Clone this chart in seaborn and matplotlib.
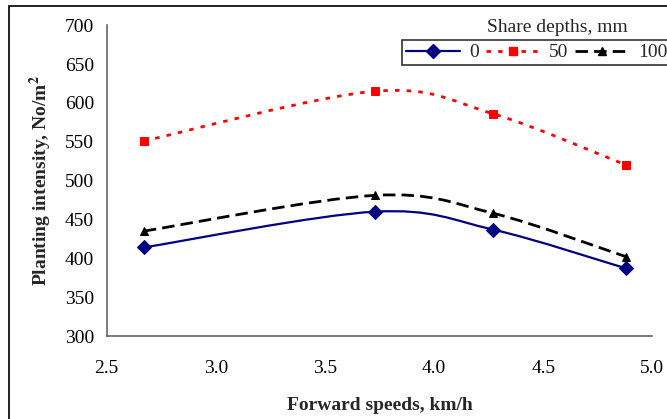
import numpy as np
import pandas as pd
import matplotlib.pyplot as plt
import seaborn as sns
from matplotlib.path import Path
from matplotlib.patches import PathPatch, Rectangle
from matplotlib.lines import Line2D

# data
speeds = [2.67, 3.73, 4.27, 4.88]
depth_0 = [414, 460, 437, 387]
depth_50 = [551, 615, 586, 520]
depth_100 = [435, 481, 458, 402]
depth_labels = ["0", "50", "100"]


def smooth_path(xs, ys):
    # Excel-like smoothed line: cubic Bezier segments through the points
    pts = np.column_stack([xs, ys]).astype(float)
    ext = np.vstack([pts[0], pts, pts[-1]])
    verts = [tuple(pts[0])]
    codes = [Path.MOVETO]
    for i in range(1, len(ext) - 2):
        p0, p1, p2, p3 = ext[i - 1], ext[i], ext[i + 1], ext[i + 2]
        c1 = p1 + (p2 - p0) / 6.0
        c2 = p2 - (p3 - p1) / 6.0
        verts += [tuple(c1), tuple(c2), tuple(p2)]
        codes += [Path.CURVE4] * 3
    return Path(verts, codes)


def plot_chart():
    sns.set_theme(style="white")
    plt.rcParams['font.family'] = ['Liberation Serif', 'DejaVu Serif']
    plt.rcParams['mathtext.fontset'] = 'stix'

    fig = plt.figure(figsize=(6.67, 4.19), dpi=100)
    ax = fig.add_axes([0.160, 0.198, 0.818, 0.742])

    df = pd.DataFrame({
        "speed": speeds * 3,
        "value": depth_0 + depth_50 + depth_100,
        "depth": [d for d in depth_labels for _ in speeds],
    })

    styles = {
        "0": dict(color="#000080", marker="D", ms=7.5, lw=1.6, dashes=None),
        "50": dict(color="#FF0000", marker="s", ms=5.5, lw=2.0, dashes=(1.6, 2.6)),
        "100": dict(color="#000000", marker="^", ms=6.0, lw=2.0, dashes=(4.5, 2.2)),
    }

    handles = []
    for d in depth_labels:
        st = styles[d]
        sub = df[df["depth"] == d]
        path = smooth_path(sub["speed"].values, sub["value"].values)
        patch = PathPatch(path, facecolor="none", edgecolor=st["color"], lw=st["lw"],
                          transform=ax.transData, zorder=2)
        if st["dashes"] is not None:
            patch.set_linestyle((0, st["dashes"]))
        ax.add_patch(patch)
        sns.lineplot(data=sub, x="speed", y="value", ax=ax, color=st["color"],
                     marker=st["marker"], markersize=st["ms"], linestyle="",
                     markeredgecolor=st["color"], legend=False, zorder=3)
        h = Line2D([], [], color=st["color"], lw=st["lw"], marker=st["marker"],
                   markersize=st["ms"], markeredgecolor=st["color"])
        if st["dashes"] is not None:
            h.set_dashes(st["dashes"])
        handles.append(h)

    ax.set_xlim(2.5, 5.0)
    ax.set_ylim(300, 700)
    ax.set_xticks(np.arange(2.5, 5.01, 0.5))
    ax.set_xticklabels([f"{v:.1f}" for v in np.arange(2.5, 5.01, 0.5)])
    ax.set_yticks(np.arange(300, 701, 50))

    for s in ["top", "right"]:
        ax.spines[s].set_visible(False)
    for s in ["left", "bottom"]:
        ax.spines[s].set_color("#666666")
        ax.spines[s].set_linewidth(1.2)
    ax.tick_params(axis="both", direction="out", length=5, width=1.2, color="#666666",
                   labelsize=14, labelcolor="black", pad=4)
    ax.tick_params(axis="x", pad=12)

    ax.set_xlabel("Forward speeds, km/h", fontsize=14, fontweight="bold", labelpad=15)
    ax.set_ylabel("Planting intensity, No/m$^\\mathbf{2}$", fontsize=14, fontweight="bold",
                  labelpad=8)

    leg = ax.legend(handles, depth_labels, loc="upper left", ncol=3,
                    bbox_to_anchor=(402 / 667, 1 - 40 / 419), bbox_transform=fig.transFigure,
                    frameon=True, fancybox=False, fontsize=14, handlelength=2.8,
                    handletextpad=0.45, columnspacing=0.35, borderpad=0.2,
                    borderaxespad=0)
    leg.get_frame().set_edgecolor("black")
    leg.get_frame().set_linewidth(1.2)
    fig.text(557 / 667, 1 - 27 / 419, "Share depths, mm", ha="center", va="center",
             fontsize=14)

    # chart area border
    fig.patches.append(Rectangle((9 / 667, -0.05), 1.0, 1 - 6 / 419 + 0.05,
                                 transform=fig.transFigure, fill=False,
                                 edgecolor="#111111", lw=1.3, zorder=5))

    fig.savefig("out.png", dpi=100)


if __name__ == "__main__":
    plot_chart()
